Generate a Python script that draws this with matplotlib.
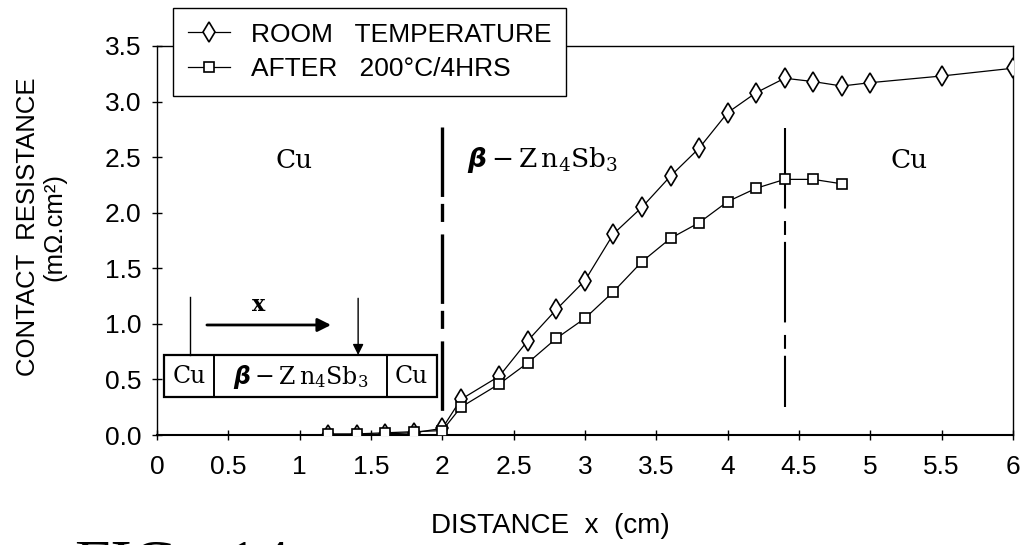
import matplotlib
matplotlib.use('Agg')
import matplotlib.pyplot as plt
from matplotlib import font_manager
from matplotlib.patches import Rectangle

# Data
x_room = [1.2, 1.4, 1.6, 1.8, 2.0, 2.13, 2.4, 2.6, 2.8, 3.0, 3.2, 3.4, 3.6, 3.8,
          4.0, 4.2, 4.4, 4.6, 4.8, 5.0, 5.5, 6.0]
y_room = [0.00, 0.00, 0.01, 0.02, 0.06, 0.32, 0.53, 0.85, 1.13, 1.39, 1.81, 2.05,
          2.33, 2.58, 2.90, 3.08, 3.21, 3.18, 3.14, 3.17, 3.23, 3.30]

x_aged = [1.2, 1.4, 1.6, 1.8, 2.0, 2.13, 2.4, 2.6, 2.8, 3.0, 3.2, 3.4, 3.6, 3.8,
          4.0, 4.2, 4.4, 4.6, 4.8]
y_aged = [0.01, 0.01, 0.02, 0.03, 0.04, 0.25, 0.46, 0.65, 0.87, 1.05, 1.29, 1.56,
          1.77, 1.91, 2.10, 2.22, 2.30, 2.30, 2.26]

series_labels = ['ROOM   TEMPERATURE', 'AFTER   200°C/4HRS']
x_ticks = [0, 0.5, 1, 1.5, 2, 2.5, 3, 3.5, 4, 4.5, 5, 5.5, 6]
x_ticklabels = ['0', '0.5', '1', '1.5', '2', '2.5', '3', '3.5', '4', '4.5', '5', '5.5', '6']
y_ticks = [0.0, 0.5, 1.0, 1.5, 2.0, 2.5, 3.0, 3.5]
y_ticklabels = ['0.0', '0.5', '1.0', '1.5', '2.0', '2.5', '3.0', '3.5']

# interface positions (cm)
interfaces = [2.0, 4.4]

# pick a condensed sans if present
names = {f.name for f in font_manager.fontManager.ttflist}
SANS = 'Liberation Sans Narrow' if 'Liberation Sans Narrow' in names else 'Liberation Sans'
SERIF = 'DejaVu Serif'
PHASE = r'$\mathbf{\beta}-\mathrm{Z\,n}_4\mathrm{Sb}_3$'

plt.rcParams['font.family'] = [SANS, 'DejaVu Sans']
plt.rcParams['lines.scale_dashes'] = False
plt.rcParams['mathtext.fontset'] = 'custom'
plt.rcParams['mathtext.rm'] = SERIF
plt.rcParams['mathtext.it'] = SERIF + ':italic'
plt.rcParams['mathtext.bf'] = 'DejaVu Sans:bold:italic'

fig = plt.figure(figsize=(10.24, 5.45), dpi=100)
ax = fig.add_axes([0.1533, 0.2018, 0.8359, 0.7138])

ax.plot(x_room, y_room, color='black', lw=0.9, marker='d', markersize=10.5,
        markerfacecolor='white', markeredgecolor='black', markeredgewidth=1.2,
        label=series_labels[0], zorder=4)
ax.plot(x_aged, y_aged, color='black', lw=0.9, marker='s', markersize=6.5,
        markerfacecolor='white', markeredgecolor='black', markeredgewidth=1.2,
        label=series_labels[1], zorder=4)

# interface lines (dash-dot like in the scan)
ax.plot([interfaces[0]] * 2, [2.77, 0.2], color='black', lw=2.4,
        dashes=(50, 5, 13, 9), zorder=3)
ax.plot([interfaces[1]] * 2, [2.76, 0.25], color='black', lw=1.5,
        dashes=(58, 9, 10, 5), zorder=3)

# region labels
ax.text(0.96, 2.47, 'Cu', fontsize=19, family=SERIF, ha='center', va='center')
ax.text(2.17, 2.47, PHASE, fontsize=19, ha='left', va='center')
ax.text(5.27, 2.47, 'Cu', fontsize=19, family=SERIF, ha='center', va='center')

# inset sketch of the sample
ax.add_patch(Rectangle((0.05, 0.34), 1.91, 0.38, fill=False, lw=1.6,
                       edgecolor='black', zorder=3))
ax.plot([0.40, 0.40], [0.34, 0.72], color='black', lw=1.4)
ax.plot([1.61, 1.61], [0.34, 0.72], color='black', lw=1.4)
ax.text(0.225, 0.525, 'Cu', fontsize=17, family=SERIF, ha='center', va='center')
ax.text(1.005, 0.525, PHASE, fontsize=17, ha='center', va='center')
ax.text(1.785, 0.525, 'Cu', fontsize=17, family=SERIF, ha='center', va='center')
ax.plot([0.23, 0.23], [1.24, 0.72], color='black', lw=1.0)
ax.annotate('', xy=(1.41, 0.72), xytext=(1.41, 1.23),
            arrowprops=dict(arrowstyle='-|>', color='black', lw=1.0,
                            mutation_scale=16, shrinkA=0, shrinkB=0))
ax.annotate('', xy=(1.22, 0.99), xytext=(0.35, 0.99),
            arrowprops=dict(arrowstyle='-|>', color='black', lw=2.0,
                            mutation_scale=20, shrinkA=0, shrinkB=0))
ax.text(0.71, 1.17, 'x', fontsize=16, family=SERIF, fontweight='bold',
        ha='center', va='center')

ax.set_xlim(0, 6)
ax.set_ylim(0, 3.5)
ax.set_xticks(x_ticks)
ax.set_xticklabels(x_ticklabels)
ax.set_yticks(y_ticks)
ax.set_yticklabels(y_ticklabels)
ax.tick_params(direction='inout', length=7, width=1.0, labelsize=19)
ax.tick_params(axis='x', pad=11)
ax.tick_params(axis='y', pad=8)
for sp in ax.spines.values():
    sp.set_linewidth(1.0)
ax.spines['bottom'].set_linewidth(1.5)

ax.set_xlabel('DISTANCE  x  (cm)', fontsize=20)
ax.xaxis.set_label_coords(0.46, -0.2)
ax.xaxis.label.set_va('top')
ax.set_ylabel('CONTACT  RESISTANCE\n(mΩ.cm²)', fontsize=18.5, linespacing=1.15)
ax.yaxis.set_label_coords(-0.135, 0.535)
ax.yaxis.label.set_va('center')

leg = ax.legend(loc='upper left', bbox_to_anchor=(173 / 1024, 1 - 8 / 545),
                bbox_transform=fig.transFigure, borderaxespad=0, fontsize=19,
                numpoints=1, handlelength=1.6, handletextpad=0.8,
                borderpad=0.55, labelspacing=0.4, fancybox=False,
                framealpha=1, edgecolor='black')
leg.get_frame().set_linewidth(1.0)
leg.set_zorder(10)

# caption, mostly cut off at the bottom edge like in the scan
fig.text(0.073, -0.07, 'FIG.  14', fontsize=46, family='Liberation Serif',
         ha='left', va='baseline')

fig.savefig('out.png', dpi=100)
plt.close('all')
